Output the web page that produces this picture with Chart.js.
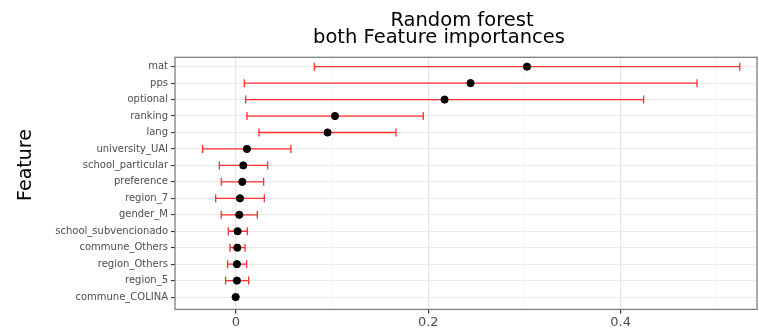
<!DOCTYPE html>
<html>
<head>
<meta charset="utf-8">
<script src="https://cdn.jsdelivr.net/npm/chart.js@4"></script>
<style>
html,body{margin:0;padding:0;background:#fff;}
#wrap{width:759px;height:331px;position:relative;}
</style>
</head>
<body>
<div id="wrap"><canvas id="c" width="759" height="331"></canvas></div>
<script>
const categories = ['mat','pps','optional','ranking','lang','university_UAI','school_particular','preference','region_7','gender_M','school_subvencionado','commune_Others','region_Others','region_5','commune_COLINA'];
const importance = [0.3027,0.244,0.217,0.103,0.0953,0.0114,0.0076,0.0066,0.0042,0.0035,0.0017,0.0014,0.001,0.001,-0.0003];
const lower = [0.0815,0.0087,0.0101,0.0114,0.0239,-0.0347,-0.0173,-0.0153,-0.0211,-0.0153,-0.008,-0.0062,-0.0087,-0.0108,null];
const upper = [0.524,0.4795,0.424,0.1948,0.1664,0.0572,0.033,0.0288,0.0295,0.0222,0.0118,0.0094,0.0111,0.0132,null];
const xTickValues = [0,0.1,0.2,0.3,0.4,0.5];
const xTickLabels = ['0','','0.2','','0.4',''];
const titleLines = ['Random forest','both Feature importances'];
const yTitle = 'Feature';

const FONT = '"DejaVu Sans", sans-serif';

const pointData = categories.map((c,i)=>({x: importance[i], y: i}));
const errorSets = [];
categories.forEach((c,i)=>{
  if (lower[i] === null || upper[i] === null) return;
  errorSets.push({
    type: 'line',
    label: c + ' error',
    data: [{x: lower[i], y: i}, {x: upper[i], y: i}],
    borderColor: '#ff2e2e',
    borderWidth: 1.3,
    pointStyle: 'line',
    rotation: 90,
    pointRadius: 4,
    pointBorderWidth: 1.3,
    pointBorderColor: '#ff2e2e',
    pointHoverRadius: 4,
    order: 1,
    fill: false
  });
});

const frame = {
  id: 'frame',
  afterDraw(chart) {
    const {ctx, chartArea: a} = chart;
    ctx.save();
    ctx.strokeStyle = '#7f7f7f';
    ctx.lineWidth = 1.3;
    ctx.strokeRect(a.left, a.top, a.right - a.left, a.bottom - a.top);
    ctx.fillStyle = '#000';
    ctx.textAlign = 'center';
    ctx.textBaseline = 'alphabetic';
    ctx.font = '19.5px ' + FONT;
    ctx.fillText(titleLines[0], 462, 26);
    ctx.fillText(titleLines[1], 439, 43.3);
    ctx.translate(31, 165);
    ctx.rotate(-Math.PI/2);
    ctx.font = '19px ' + FONT;
    ctx.textBaseline = 'alphabetic';
    ctx.fillText(yTitle, 0, 0);
    ctx.restore();
  }
};

new Chart(document.getElementById('c'), {
  type: 'scatter',
  data: {
    datasets: [{
      label: 'importance',
      data: pointData,
      backgroundColor: '#000',
      borderColor: '#000',
      pointRadius: 3.6,
      pointHoverRadius: 3.6,
      order: 0
    }, ...errorSets]
  },
  options: {
    responsive: false,
    animation: false,
    events: [],
    layout: {autoPadding: false, padding: {top: 57.3, right: 2, left: 0, bottom: 0}},
    plugins: {legend: {display: false}, tooltip: {enabled: false}, title: {display: false}},
    scales: {
      x: {
        type: 'linear',
        min: -0.0634,
        max: 0.5419,
        afterBuildTicks(axis) { axis.ticks = xTickValues.map(v => ({value: v})); },
        afterFit(axis) { axis.paddingLeft = 0; axis.paddingRight = 0; },
        ticks: {
          autoSkip: false,
          maxRotation: 0,
          padding: 1,
          color: '#4d4d4d',
          font: {family: FONT, size: 13},
          callback(value) {
            const k = xTickValues.findIndex(v => Math.abs(v - value) < 1e-9);
            return k >= 0 ? xTickLabels[k] : '';
          }
        },
        grid: {
          color(ctx) { return (ctx.index % 2 === 0) ? '#e6e6e6' : '#f2f2f2'; },
          lineWidth(ctx) { return (ctx.index % 2 === 0) ? 1.2 : 0.7; },
          tickColor(ctx) { return (ctx.index % 2 === 0) ? '#333333' : 'rgba(0,0,0,0)'; },
          tickLength: 4,
          drawTicks: true
        },
        border: {display: false}
      },
      y: {
        type: 'linear',
        reverse: true,
        min: -0.57,
        max: 14.75,
        afterBuildTicks(axis) { axis.ticks = categories.map((c, i) => ({value: i})); },
        afterFit(axis) { axis.width = 175; },
        ticks: {
          autoSkip: false,
          padding: 3,
          color: '#4d4d4d',
          font: {family: FONT, size: 10},
          callback(value) { return categories[Math.round(value)]; }
        },
        grid: {
          color: '#ebebeb',
          lineWidth: 1.1,
          tickColor: '#333333',
          tickLength: 4
        },
        border: {display: false}
      }
    }
  },
  plugins: [frame]
});
</script>
</body>
</html>
